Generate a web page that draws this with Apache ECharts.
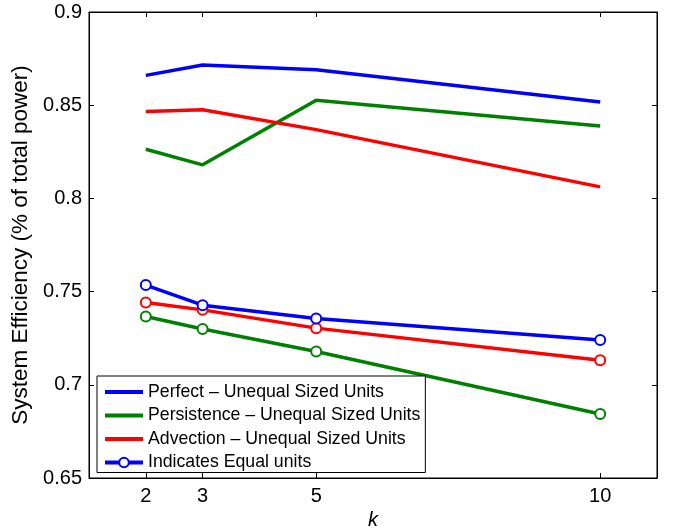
<!DOCTYPE html>
<html>
<head>
<meta charset="utf-8">
<script src="https://cdn.jsdelivr.net/npm/echarts@6/dist/echarts.min.js"></script>
<style>
  html, body { margin: 0; padding: 0; background: #fff; }
  #content { width: 673px; height: 531px; }
</style>
</head>
<body>
<div id="content"></div>
<script>
var myChart = echarts.init(document.getElementById('content'));

// k 值
var kValues = [2, 3, 5, 10];
var xTicks = [2, 3, 5, 10];

// 不等容量单元
var perfectUnequal = [0.8660, 0.8716, 0.8690, 0.8517];
var persistenceUnequal = [0.8264, 0.8180, 0.8527, 0.8389];
var advectionUnequal = [0.8466, 0.8476, 0.8369, 0.8062];

// 等容量单元
var perfectEqual = [0.7535, 0.7427, 0.7356, 0.7240];
var persistenceEqual = [0.7366, 0.7299, 0.7179, 0.6843];
var advectionEqual = [0.7441, 0.7402, 0.7304, 0.7132];

var FONT = 'Liberation Sans, Arial, Helvetica, sans-serif';

function pairs(vals) {
    return kValues.map(function (k, i) { return [k, vals[i]]; });
}

function lineSeries(name, color, vals, withMarker) {
    return {
        name: name,
        type: 'line',
        data: pairs(vals),
        symbol: withMarker ? 'emptyCircle' : 'none',
        symbolSize: 10,
        showSymbol: withMarker,
        lineStyle: { color: color, width: 3.5 },
        itemStyle: { color: color, borderColor: color, borderWidth: 3 },
        emphasis: { disabled: true },
        animation: false,
        z: withMarker ? 3 : 2
    };
}

var option = {
    animation: false,
    grid: {
        left: 89, right: 16, top: 12, bottom: 53,
        outerBoundsMode: 'none',
        show: true, borderColor: '#000', borderWidth: 1
    },
    legend: {
        orient: 'vertical',
        left: 97,
        top: 376,
        data: [
            { name: 'Perfect – Unequal Sized Units', itemStyle: { opacity: 0 } },
            { name: 'Persistence – Unequal Sized Units', itemStyle: { opacity: 0 } },
            { name: 'Advection – Unequal Sized Units', itemStyle: { opacity: 0 } },
            { name: 'Indicates Equal units' }
        ],
        itemWidth: 38,
        itemHeight: 12,
        itemGap: 5.5,
        padding: [7, 5, 1, 6],
        lineStyle: { width: 4 },
        backgroundColor: '#fff',
        borderColor: '#000',
        borderWidth: 1,
        borderRadius: 0,
        textStyle: { fontFamily: FONT, fontSize: 17.7, color: '#000' },
        z: 10
    },
    xAxis: [{
        type: 'value',
        min: 1,
        max: 11,
        name: 'k',
        nameLocation: 'middle',
        nameGap: 27,
        nameTextStyle: { fontFamily: FONT, fontSize: 20, fontStyle: 'italic', color: '#000' },
        axisLine: { lineStyle: { color: '#000', width: 1 } },
        axisTick: { inside: true, length: 5, customValues: xTicks, lineStyle: { color: '#000' } },
        axisLabel: { customValues: xTicks, fontFamily: FONT, fontSize: 20, color: '#000', margin: 8 },
        splitLine: { show: false }
    }, {
        type: 'value',
        position: 'top',
        min: 1,
        max: 11,
        axisLine: { lineStyle: { color: '#000', width: 1 } },
        axisTick: { inside: true, length: 5, customValues: xTicks, lineStyle: { color: '#000' } },
        axisLabel: { show: false },
        splitLine: { show: false }
    }],
    yAxis: [{
        type: 'value',
        min: 0.65,
        max: 0.9,
        interval: 0.05,
        name: 'System Efficiency (% of total power)',
        nameLocation: 'middle',
        nameGap: 55,
        nameTextStyle: { fontFamily: FONT, fontSize: 22.5, color: '#000' },
        axisLine: { show: true, lineStyle: { color: '#000', width: 1 } },
        axisTick: { show: true, inside: true, length: 5, lineStyle: { color: '#000' } },
        axisLabel: {
            fontFamily: FONT, fontSize: 20, color: '#000', margin: 7,
            formatter: function (v) { return String(+v.toFixed(2)); }
        },
        splitLine: { show: false }
    }, {
        type: 'value',
        position: 'right',
        min: 0.65,
        max: 0.9,
        interval: 0.05,
        axisLine: { show: true, lineStyle: { color: '#000', width: 1 } },
        axisTick: { show: true, inside: true, length: 5, lineStyle: { color: '#000' } },
        axisLabel: { show: false },
        splitLine: { show: false }
    }],
    series: [
        lineSeries('Perfect – Unequal Sized Units', '#0000ff', perfectUnequal, false),
        lineSeries('Persistence – Unequal Sized Units', '#008000', persistenceUnequal, false),
        lineSeries('Advection – Unequal Sized Units', '#ff0000', advectionUnequal, false),
        lineSeries('Persistence – Equal units', '#008000', persistenceEqual, true),
        lineSeries('Advection – Equal units', '#ff0000', advectionEqual, true),
        lineSeries('Indicates Equal units', '#0000ff', perfectEqual, true)
    ]
};

myChart.setOption(option);
</script>
</body>
</html>
